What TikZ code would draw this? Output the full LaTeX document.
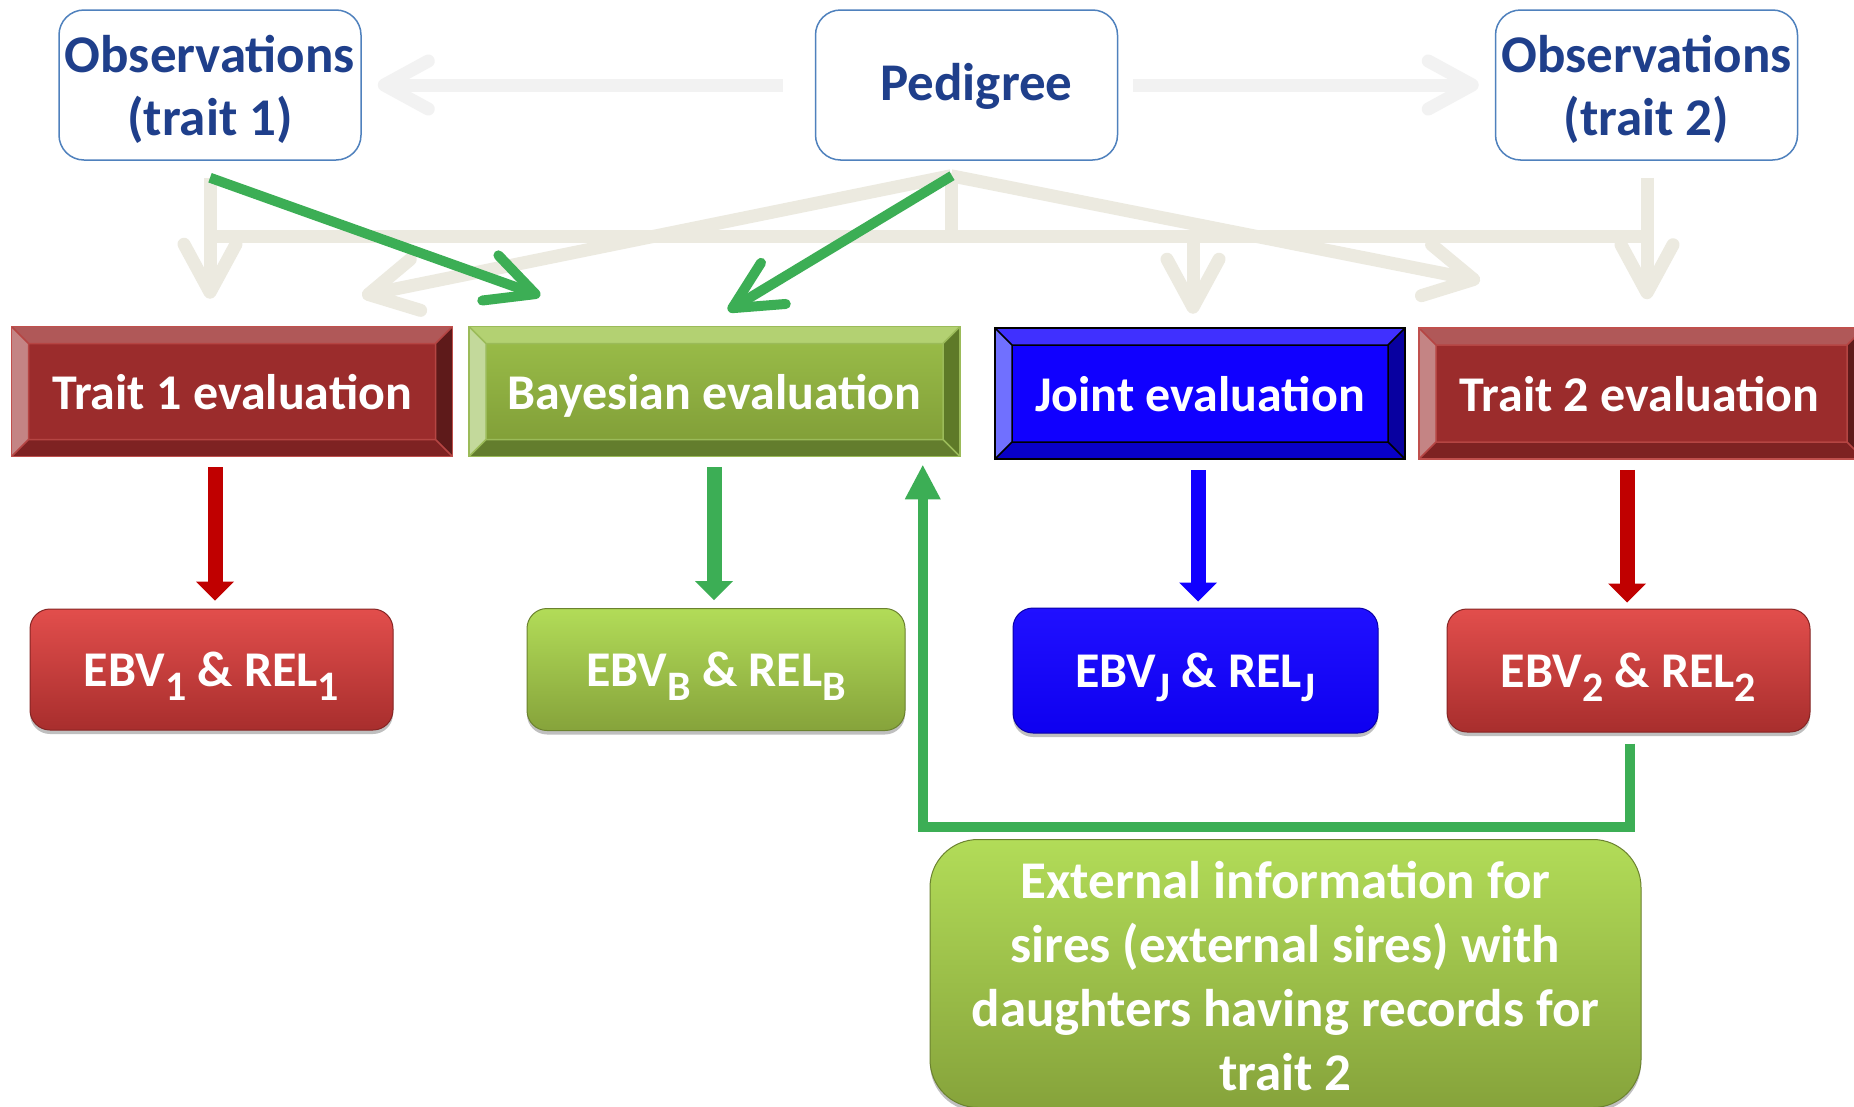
\documentclass[tikz,border=0pt]{standalone}
\usepackage{fontspec}
\setmainfont{Carlito}
\usetikzlibrary{arrows.meta,calc,shadows}
\definecolor{obsblue}{HTML}{1F3F8B}
\definecolor{obsborder}{HTML}{4F81BD}
\definecolor{lgray}{HTML}{F2F2F2}
\definecolor{beige}{HTML}{ECEAE0}
\definecolor{arrgreen}{HTML}{3CAE55}
\definecolor{arrred}{HTML}{C00000}
\definecolor{arrblue}{HTML}{1000FF}
% trait boxes
\definecolor{trFace}{HTML}{9B2C2C}
\definecolor{trTop}{HTML}{B05858}
\definecolor{trLeft}{HTML}{C48484}
\definecolor{trRight}{HTML}{5E1A1A}
\definecolor{trBot}{HTML}{7E2222}
\definecolor{trBorder}{HTML}{C0504D}
% bayesian box
\definecolor{bgTopFace}{HTML}{9CBF4A}
\definecolor{bgBotFace}{HTML}{7E9B36}
\definecolor{bgTop}{HTML}{B3D172}
\definecolor{bgLeft}{HTML}{C3D99B}
\definecolor{bgRight}{HTML}{5E7A28}
\definecolor{bgBot}{HTML}{637D2D}
\definecolor{bgBorder}{HTML}{9BBB59}
% joint box
\definecolor{jFace}{HTML}{1000FF}
\definecolor{jTop}{HTML}{4030FF}
\definecolor{jLeft}{HTML}{7070FF}
\definecolor{jRight}{HTML}{0800A0}
\definecolor{jBot}{HTML}{0800C8}
% ebv boxes
\definecolor{erTop}{HTML}{E24E4C}
\definecolor{erMid}{HTML}{CF403E}
\definecolor{erBot}{HTML}{A82E2D}
\definecolor{egTop}{HTML}{B2DC58}
\definecolor{egMid}{HTML}{A0C64A}
\definecolor{egBot}{HTML}{86A33B}
\definecolor{ebTop}{HTML}{2010FF}
\definecolor{ebBot}{HTML}{0E00F0}
\newcommand{\sbx}[1]{\raisebox{-14pt}{\fontsize{42}{42}\selectfont #1}}
\begin{document}
\begin{tikzpicture}[x=1pt,y=-1pt,
  topbox/.style={draw=obsborder, line width=1.5pt, fill=white, rounded corners=25pt,
    minimum width=302pt, minimum height=150pt, align=center, text=obsblue, inner sep=0pt,
    font=\bfseries\fontsize{53}{63}\selectfont},
  evalbox/.style={inner sep=0pt, text=white, text height=42pt, text depth=7pt,
    font=\bfseries\fontsize{50}{60}\selectfont},
  bevel/.style n args={5}{path picture={
    \coordinate (bvA) at (path picture bounding box.north west);
    \coordinate (bvB) at (path picture bounding box.north east);
    \coordinate (bvC) at (path picture bounding box.south east);
    \coordinate (bvD) at (path picture bounding box.south west);
    \coordinate (bva) at ([shift={(17pt,-17pt)}]bvA);
    \coordinate (bvb) at ([shift={(-17pt,-17pt)}]bvB);
    \coordinate (bvc) at ([shift={(-17pt,17pt)}]bvC);
    \coordinate (bvd) at ([shift={(17pt,17pt)}]bvD);
    \fill[#1] (bvA)--(bvB)--(bvb)--(bva)--cycle;
    \fill[#2] (bvA)--(bva)--(bvd)--(bvD)--cycle;
    \fill[#3] (bvB)--(bvC)--(bvc)--(bvb)--cycle;
    \fill[#4] (bvD)--(bvC)--(bvc)--(bvd)--cycle;
    \draw[#5, line width=1.5pt] (bva) rectangle (bvc) (bvA)--(bva) (bvB)--(bvb) (bvC)--(bvc) (bvD)--(bvd);
  }},
  ebvbox/.style={rounded corners=20pt, inner sep=0pt, text=white,
    font=\bfseries\fontsize{50}{60}\selectfont,
    drop shadow={shadow xshift=0pt, shadow yshift=-4pt, fill=black, opacity=0.25}},
  ebvtext/.style={text height=40pt, text depth=7pt},
  lg/.style={draw=lgray, line width=13pt, -{Straight Barb[length=44pt,width=48pt,round]}},
  bg/.style={draw=beige, line width=13pt},
  bga/.style={bg, -{Straight Barb[length=48pt,width=52pt,round]}},
  garr/.style={draw=arrgreen, line width=10pt, -{Straight Barb[length=48pt,width=48pt,round]}},
  tri/.style={line width=15pt, -{Triangle[length=19pt,width=38pt,line width=0pt]}},
  fb/.style={draw=arrgreen, line width=10pt, -{Triangle[length=34pt,width=36pt,line width=0pt]}}
]
\path[use as bounding box, clip] (0,0) rectangle (1854,1106);
\fill[white] (0,0) rectangle (1854,1106);

% top row
\node[topbox] (obs1) at (210,85) {\rule{0pt}{46pt}Observations\\(trait 1)};
\node[topbox] (ped) at (966.5,85) {\rule{0pt}{40pt}\hspace{20pt}Pedigree};
\node[topbox] (obs2) at (1646.5,85) {\rule{0pt}{46pt}Observations\\(trait 2)};

% evaluation boxes
\node[evalbox, minimum width=441pt, minimum height=130pt, fill=trFace, draw=trBorder, line width=1.5pt,
  bevel={trTop}{trLeft}{trRight}{trBot}{trBorder!70!trFace}] (t1) at (232,391.5) {Trait 1 evaluation};
\node[evalbox, minimum width=491pt, minimum height=130pt, top color=bgTopFace, bottom color=bgBotFace,
  draw=bgBorder, line width=1.5pt,
  bevel={bgTop}{bgLeft}{bgRight}{bgBot}{bgBorder}] (bay) at (714.5,391.5) {Bayesian evaluation};
\node[evalbox, minimum width=410pt, minimum height=131pt, fill=jFace, draw=black, line width=2.5pt,
  bevel={jTop}{jLeft}{jRight}{jBot}{black}] (joint) at (1200,393.5) {Joint evaluation};
\node[evalbox, minimum width=445pt, minimum height=131pt, fill=trFace, draw=trBorder, line width=1.5pt,
  bevel={trTop}{trLeft}{trRight}{trBot}{trBorder!70!trFace}] (t2) at (1641.5,393.5) {\hspace{-4pt}Trait 2 evaluation};

% EBV boxes
\node[ebvbox, ebvtext, minimum width=363pt, minimum height=121pt, top color=erTop, middle color=erMid, bottom color=erBot,
  draw=erBot!80!black, line width=1pt] (e1) at (211.5,669.5) {EBV\sbx{1} \& REL\sbx{1}};
\node[ebvbox, ebvtext, minimum width=378pt, minimum height=122pt, top color=egTop, middle color=egMid, bottom color=egBot,
  draw=egBot!80!black, line width=1pt] (eb) at (716,669.5) {EBV\sbx{B} \& REL\sbx{B}};
\node[ebvbox, ebvtext, minimum width=365pt, minimum height=125pt, top color=ebTop, bottom color=ebBot,
  draw=ebBot!70!black, line width=1pt] (ej) at (1195.5,670.5) {EBV\sbx{J} \& REL\sbx{J}};
\node[ebvbox, ebvtext, minimum width=363pt, minimum height=123pt, top color=erTop, middle color=erMid, bottom color=erBot,
  draw=erBot!80!black, line width=1pt] (e2) at (1628.5,670.5) {EBV\sbx{2} \& REL\sbx{2}};

% external information box
\node[ebvbox, rounded corners=48pt, minimum width=711pt, minimum height=268pt, anchor=north,
  top color=egTop, middle color=egMid, bottom color=egBot, draw=egBot!80!black, line width=1pt,
  align=center, font=\bfseries\fontsize{53}{64}\selectfont] (ext) at (1285.5,839)
  {\rule{0pt}{42pt}External information for\\sires (external sires) with\\daughters having records for\\trait 2};

% light gray arrows from pedigree
\draw[lg] ($(ped.west)+(-32,0)$) -- ($(obs1.east)+(16,0)$);
\draw[lg] ($(ped.east)+(15,0)$) -- ($(obs2.west)+(-16,0)$);

% beige network
\coordinate (barL) at ($(obs1.south)+(0,76)$);
\coordinate (barR) at ($(obs2.south)+(0.5,76)$);
\coordinate (pedB) at ($(ped.south)+(-15.5,12)$);
\coordinate (pedD) at ($(ped.south)+(-15.5,15)$);
\coordinate (barP) at (barL -| pedB);
\draw[bg] (barL) -- (barR);
\draw[bg] (pedB) -- (barP);
\draw[bga] ($(obs1.south)+(0,17)$) -- ($(t1.north -| obs1.south)+(0,-27)$);
\draw[bga] ($(obs2.south)+(0.5,17)$) -- ($(t2.north -| barR)+(0,-28)$);
\draw[bga] ($(barL -| joint.north)+(-7,0)$) -- ($(joint.north)+(-7,-13)$);
\draw[bga] (pedD) -- ($(t1.north)+(130,-30)$);
\draw[bga] (pedD) -- ($(t2.north)+(-161.5,-46.5)$);

% green arrows into Bayesian evaluation
\draw[garr] ($(obs1.south)+(0,17)$) -- ($(bay.north west)+(72,-30)$);
\draw[garr] ($(ped.south)+(-14.5,15)$) -- ($(bay.north)+(13.5,-15)$);

% down arrows
\draw[tri, draw=arrred] ($(t1.south -| e1.north)+(3.5,10)$) -- ($(e1.north)+(3.5,-8)$);
\draw[tri, draw=arrgreen] ($(bay.south -| eb.north)+(-2,10)$) -- ($(eb.north)+(-2,-8)$);
\draw[tri, draw=arrblue] ($(joint.south -| ej.north)+(2.5,10)$) -- ($(ej.north)+(2.5,-6)$);
\draw[tri, draw=arrred] ($(t2.south -| e2.north)+(-1.5,10)$) -- ($(e2.north)+(-1.5,-6)$);

% feedback arrow
\coordinate (fbS) at ($(e2.south)+(1.5,11)$);
\coordinate (fbT) at ($(e2.south)+(1.5,94)$);
\draw[fb] (fbS) -- (fbT) -| ($(bay.south east)+(-38,8)$);
\end{tikzpicture}
\end{document}
